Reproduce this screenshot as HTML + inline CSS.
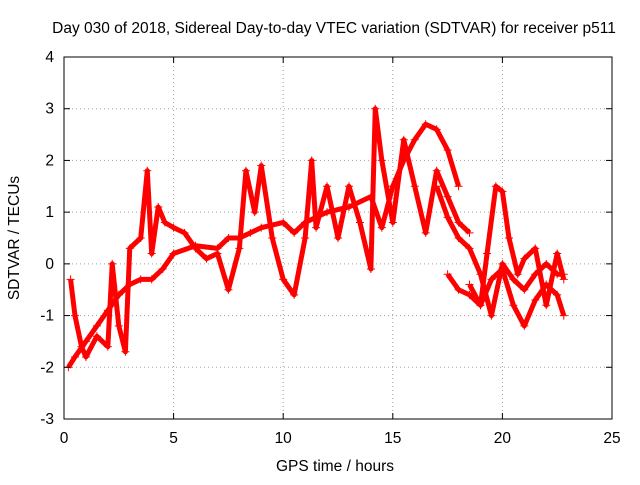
<!DOCTYPE html>
<html><head><meta charset="utf-8"><style>
body{margin:0;background:#fff;}
svg text{font-family:"Liberation Sans",sans-serif;font-size:15.5px;fill:#000;}
</style></head><body>
<svg width="640" height="480">
<text x="334" y="33" text-anchor="middle">Day 030 of 2018, Sidereal Day-to-day VTEC variation (SDTVAR) for receiver p511</text>
<g id="grid"></g>
<g id="series"></g>
<rect x="64" y="57" width="548" height="362" fill="none" stroke="#000" stroke-width="1"/>
<g id="ticks"></g>
<text x="335" y="471" text-anchor="middle">GPS time / hours</text>
<text transform="translate(19,238) rotate(-90)" text-anchor="middle">SDTVAR / TECUs</text>
</svg>
<script>
const xTicks=[0,5,10,15,20,25];
const yTicks=[-3,-2,-1,0,1,2,3,4];
const traceA=[[0.2,-2],[0.5,-1.8],[1,-1.5],[1.5,-1.2],[2,-0.9],[2.5,-0.6],[3,-0.4],[3.5,-0.3],[4,-0.3],[4.5,-0.1],[5,0.2],[6,0.35],[7,0.3],[7.5,0.5],[8,0.5],[8.5,0.6],[9,0.7],[10,0.8],[10.5,0.6],[11,0.8],[12,1.0],[13,1.1],[14,1.3],[14.5,0.7],[15,1.5],[15.5,2.0],[16,2.4],[16.5,2.7],[17,2.6],[17.5,2.2],[18,1.5]];
const traceB=[[0.3,-0.3],[0.5,-1.0],[0.8,-1.6],[1,-1.8],[1.5,-1.4],[2,-1.6],[2.2,0.0],[2.5,-1.2],[2.8,-1.7],[3,0.3],[3.5,0.5],[3.8,1.8],[4,0.2],[4.3,1.1],[4.6,0.8],[5,0.7],[5.5,0.6],[6,0.3],[6.5,0.1],[7,0.2],[7.5,-0.5],[8,0.3],[8.3,1.8],[8.7,1.0],[9,1.9],[9.5,0.5],[10,-0.3],[10.5,-0.6],[11,0.5],[11.3,2.0],[11.5,0.7],[12,1.5],[12.5,0.5],[13,1.5],[13.5,0.8],[14,-0.1],[14.2,3.0],[14.5,2.0],[15,0.8],[15.5,2.4],[16,1.5],[16.5,0.6],[17,1.8],[17.5,1.3],[18,0.8],[18.5,0.6]];
const traceC=[[17.5,-0.2],[18,-0.5],[18.5,-0.6],[19,-0.8],[19.5,-0.3],[20,-0.1],[20.5,-0.8],[21,-1.2],[21.5,-0.7],[22,-0.4],[22.5,-0.6],[22.8,-1.0]];
const traceD=[[18.5,-0.4],[19,-0.8],[19.3,0.2],[19.7,1.5],[20,1.4],[20.3,0.5],[20.7,-0.2],[21,0.1],[21.5,0.3],[22,-0.8],[22.5,0.2],[22.8,-0.3]];
const traceE=[[17,1.5],[17.5,0.9],[18,0.5],[18.5,0.3],[19,-0.2],[19.5,-1.0],[20,0.0],[20.5,-0.3],[21,-0.5],[21.5,-0.2],[22,0.0],[22.5,-0.2],[22.8,-0.2]];
const traces=[traceA,traceB,traceC,traceD,traceE];
const X0=64,X1=612,Y0=419,Y1=57;
const sx=t=>X0+(t-0)/(25-0)*(X1-X0);
const sy=v=>Y0-(v+3)/7*(Y0-Y1);
const NS="http://www.w3.org/2000/svg";
const grid=document.getElementById('grid'),ticks=document.getElementById('ticks'),ser=document.getElementById('series');
function mk(tag,attrs,parent){const e=document.createElementNS(NS,tag);for(const k in attrs)e.setAttribute(k,attrs[k]);parent.appendChild(e);return e;}
xTicks.forEach(t=>{const x=sx(t);
 if(t>0&&t<25){const g=mk('line',{x1:x,x2:x,y1:Y0,y2:Y1,stroke:'#a0a0a0','stroke-dasharray':'1,3'},grid);
 
 }
 mk('line',{x1:x,x2:x,y1:Y0,y2:Y0-6,stroke:'#000'},ticks);
 mk('line',{x1:x,x2:x,y1:Y1,y2:Y1+6,stroke:'#000'},ticks);
 const l=mk('text',{x:x,y:Y0+24,'text-anchor':'middle'},ticks);l.textContent=t;
 
 
});
yTicks.forEach(v=>{const y=sy(v);
 if(v>-3&&v<4){const g=mk('line',{x1:X0,x2:X1,y1:y,y2:y,stroke:'#a0a0a0','stroke-dasharray':'1,3'},grid);
 
 }
 mk('line',{x1:X0,x2:X0+6,y1:y,y2:y,stroke:'#000'},ticks);
 mk('line',{x1:X1,x2:X1-6,y1:y,y2:y,stroke:'#000'},ticks);
 const l=mk('text',{x:X0-10,y:y+5,'text-anchor':'end'},ticks);l.textContent=v;
 
 
});
traces.forEach((tr,i)=>{
 const pts=tr.map(p=>sx(p[0])+','+sy(p[1])).join(' ');
 const pl=mk('polyline',{points:pts,fill:'none',stroke:'#f00','stroke-width':5,'stroke-linejoin':'round'},ser);
 
 
 tr.forEach(p=>{const x=sx(p[0]),y=sy(p[1]);
  const m=mk('path',{d:`M${x-4},${y}H${x+4}M${x},${y-4}V${y+4}`,stroke:'#f00','stroke-width':1},ser);
  
  
 });
});
</script>
</body></html>
